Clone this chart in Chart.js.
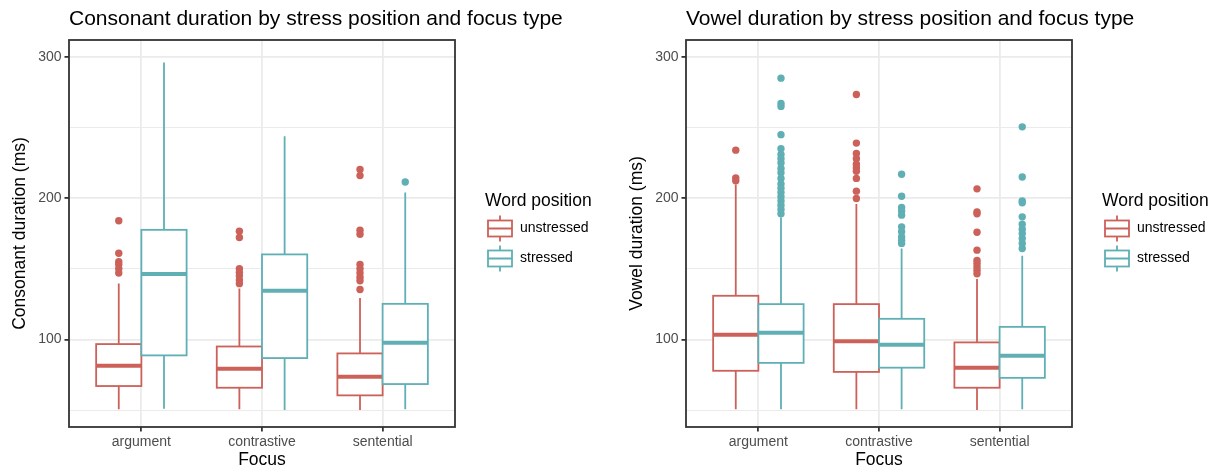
<!DOCTYPE html>
<html><head><meta charset="utf-8">
<script src="https://cdn.jsdelivr.net/npm/chart.js@4"></script>
<style>
html,body{margin:0;padding:0;background:#fff;}
#wrap{position:relative;width:1215px;height:471px;overflow:hidden;}
.pane{position:absolute;top:0;height:471px;}
canvas{display:block;}
</style></head><body>
<div id="wrap">
<div class="pane" style="left:0;width:617px"><canvas id="c1"></canvas></div>
<div class="pane" style="left:617px;width:598px"><canvas id="c2"></canvas></div>
</div>
<script>
// ---------- data ----------
const categories = ['argument', 'contrastive', 'sentential'];
const groups = ['unstressed', 'stressed'];
const yMajorTicks = [100, 200, 300];
const yMinorTicks = [50, 150, 250];
const titles = ['Consonant duration by stress position and focus type', 'Vowel duration by stress position and focus type'];
const yTitles = ['Consonant duration (ms)', 'Vowel duration (ms)'];
const xTitle = 'Focus';
const legendTitle = 'Word position';

// stats per category: [lower whisker, Q1, median, Q3, upper whisker]
const consUnstressedStats = [[50.5, 67, 81.3, 96.7, 139.6], [50.5, 65.8, 79.2, 95, 136], [50, 60.4, 73.5, 90.1, 129.4]];
const consStressedStats = [[51, 88.7, 146.4, 177.6, 296], [50, 86.8, 134.4, 160.2, 243.9], [50.5, 68.4, 97.6, 125.2, 204]];
const consUnstressedOutliers = [[184, 161, 155, 153, 150, 147], [176.6, 172.2, 150, 147.5, 145, 142, 139.5], [220.3, 216, 177.3, 174.5, 153, 150, 147, 144, 141.5, 135.4]];
const consStressedOutliers = [[], [], [211.5]];

const vowUnstressedStats = [[50.5, 77.8, 103.3, 130.9, 209.7], [50.5, 77, 98.8, 125, 195.8], [50, 65.8, 80, 97.9, 142.7]];
const vowStressedStats = [[50.5, 83.4, 104.7, 125, 186.3], [50.5, 80, 96.2, 114.6, 164.4], [50.5, 72.8, 88.4, 108.9, 159.2]];
const vowUnstressedOutliers = [[234, 214.4, 212.3], [273.4, 239, 231.6, 228, 224, 221.4, 219, 214, 205, 199.8], [206.6, 190.3, 189, 175.9, 163.2, 156, 154, 151.5, 149, 146.5]];
const vowStressedOutliers = [[285, 267, 265, 245, 235, 231, 228, 225, 221, 218, 214, 210, 207, 204, 201, 198, 195, 192, 189], [217, 201.4, 193.4, 191, 188, 179.7, 176.2, 172.6, 170, 168], [250.5, 215, 198.1, 196.7, 186.8, 181.6, 178, 175, 171.5, 168, 164.4]];

// ---------- style ----------
const COLORS = ['#CC6159', '#5FAFB5'];
const FONT = "'Liberation Sans', Arial, Helvetica, sans-serif";
const DODGE = 0.375;

function outlierPoints(outliers, g) {
  const pts = [];
  outliers.forEach((arr, i) => arr.forEach(v => pts.push({ x: i + 1 + (g === 0 ? -DODGE / 2 : DODGE / 2), y: v })));
  return pts;
}

const boxPlugin = {
  id: 'boxes',
  beforeDatasetsDraw(chart) {
    const { ctx, scales: { x, y } } = chart;
    const stats = chart.options.plugins.boxes.stats;
    ctx.save();
    stats.forEach((grp, g) => {
      grp.forEach((s, i) => {
        const x0 = x.getPixelForValue(i + 1 + (g === 0 ? -DODGE : 0));
        const x1 = x.getPixelForValue(i + 1 + (g === 0 ? 0 : DODGE));
        const xc = (x0 + x1) / 2;
        const [lo, q1, med, q3, hi] = s.map(v => y.getPixelForValue(v));
        ctx.strokeStyle = COLORS[g];
        ctx.lineWidth = 1.8;
        ctx.beginPath();
        ctx.moveTo(xc, q3); ctx.lineTo(xc, hi);
        ctx.moveTo(xc, q1); ctx.lineTo(xc, lo);
        ctx.stroke();
        ctx.fillStyle = '#fff';
        ctx.fillRect(x0, q3, x1 - x0, q1 - q3);
        ctx.strokeRect(x0, q3, x1 - x0, q1 - q3);
        ctx.lineWidth = 4;
        ctx.beginPath();
        ctx.moveTo(x0, med); ctx.lineTo(x1, med);
        ctx.stroke();
      });
    });
    ctx.restore();
  },
  afterDraw(chart) {
    const { ctx, chartArea: a } = chart;
    const o = chart.options.plugins.boxes;
    ctx.save();
    // panel border
    ctx.strokeStyle = '#333333';
    ctx.lineWidth = 1.8;
    ctx.strokeRect(a.left, a.top, a.right - a.left, a.bottom - a.top);
    // title
    ctx.fillStyle = '#000';
    ctx.font = '21px ' + FONT;
    ctx.textAlign = 'left';
    ctx.textBaseline = 'alphabetic';
    ctx.fillText(o.title, a.left, 24.5);
    // legend
    const lx = a.right + 30;
    ctx.font = '17.5px ' + FONT;
    ctx.textBaseline = 'middle';
    ctx.fillText(legendTitle, lx, 201);
    groups.forEach((name, g) => {
      const cy = 228.5 + g * 30;
      const bx = lx + 3, bw = 24, bh = 16;
      ctx.strokeStyle = COLORS[g];
      ctx.lineWidth = 1.8;
      ctx.beginPath();
      ctx.moveTo(bx + bw / 2, cy - 13); ctx.lineTo(bx + bw / 2, cy - bh / 2);
      ctx.moveTo(bx + bw / 2, cy + bh / 2); ctx.lineTo(bx + bw / 2, cy + 13);
      ctx.moveTo(bx, cy); ctx.lineTo(bx + bw, cy);
      ctx.stroke();
      ctx.strokeRect(bx, cy - bh / 2, bw, bh);
      ctx.fillStyle = '#000';
      ctx.font = '14px ' + FONT;
      ctx.fillText(name, bx + bw + 8, cy);
    });
    ctx.restore();
  }
};

function makeChart(id, width, title, yTitle, stats, outliers) {
  const cv = document.getElementById(id);
  cv.style.width = width + 'px';
  cv.style.height = '471px';
  return new Chart(cv, {
    type: 'scatter',
    data: {
      datasets: groups.map((gname, g) => ({
        label: gname,
        data: outlierPoints(outliers[g], g),
        backgroundColor: COLORS[g],
        borderWidth: 0,
        pointRadius: 3.7,
        pointHoverRadius: 3.7
      }))
    },
    options: {
      responsive: false,
      animation: false,
      events: [],
      layout: { padding: { top: 40, left: 0, bottom: 0, right: width - 455 } },
      plugins: {
        legend: { display: false },
        tooltip: { enabled: false },
        title: { display: false },
        boxes: { stats: stats, title: title }
      },
      scales: {
        x: {
          type: 'linear',
          min: 0.4, max: 3.6,
          afterBuildTicks: s => { s.ticks = categories.map((c, i) => ({ value: i + 1 })); },
          afterFit: s => { s.height = 44; },
          ticks: {
            callback: (v, i) => categories[i],
            font: { size: 14, family: FONT },
            color: '#4D4D4D',
            padding: 2,
            maxRotation: 0,
            autoSkip: false
          },
          grid: { color: '#EBEBEB', lineWidth: 1.8, tickColor: '#333333', tickLength: 4.5, tickWidth: 1.8 },
          border: { display: false },
          title: { display: true, text: xTitle, font: { size: 17.5, family: FONT }, color: '#000', padding: { top: 0, bottom: 0 } }
        },
        y: {
          type: 'linear',
          min: 38, max: 312,
          afterBuildTicks: s => { s.ticks = yMinorTicks.concat(yMajorTicks).sort((p, q) => p - q).map(v => ({ value: v })); },
          afterFit: s => { s.width = 69; },
          ticks: {
            callback: v => yMajorTicks.includes(v) ? String(v) : '',
            font: { size: 14, family: FONT },
            color: '#4D4D4D',
            padding: 3,
            autoSkip: false
          },
          grid: {
            color: '#EBEBEB',
            lineWidth: c => yMajorTicks.includes(c.tick.value) ? 1.8 : 1,
            tickColor: c => yMajorTicks.includes(c.tick.value) ? '#333333' : 'rgba(0,0,0,0)',
            tickLength: 4.5,
            tickWidth: 1.8
          },
          border: { display: false },
          title: { display: true, text: yTitle, font: { size: 17.5, family: FONT }, color: '#000', padding: { top: 9.5, bottom: 0 } }
        }
      }
    },
    plugins: [boxPlugin]
  });
}

makeChart('c1', 617, titles[0], yTitles[0], [consUnstressedStats, consStressedStats], [consUnstressedOutliers, consStressedOutliers]);
makeChart('c2', 598, titles[1], yTitles[1], [vowUnstressedStats, vowStressedStats], [vowUnstressedOutliers, vowStressedOutliers]);
</script>
</body></html>
